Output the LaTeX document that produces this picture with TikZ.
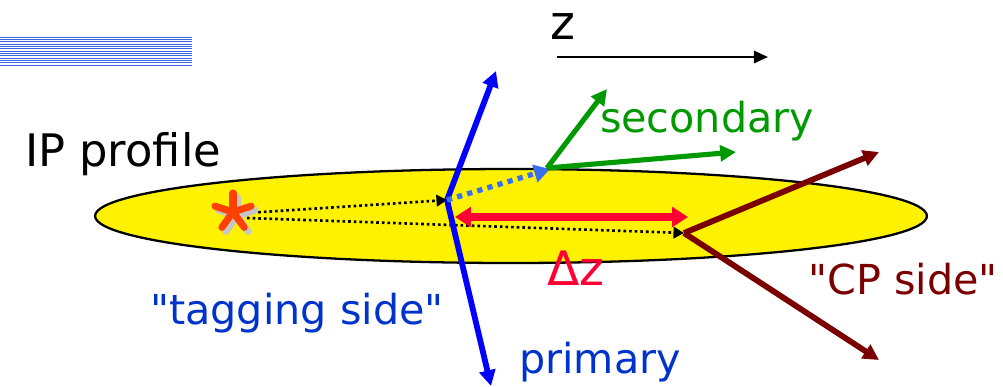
\documentclass[tikz,border=0pt]{standalone}
\usepackage{fontspec}
\setmainfont{DejaVu Sans}
\usetikzlibrary{arrows.meta,shapes.geometric,calc}
\definecolor{bluel}{HTML}{0000FF}
\definecolor{lightbl}{HTML}{3A6FF0}
\definecolor{greenl}{HTML}{009900}
\definecolor{redl}{HTML}{FF0033}
\definecolor{darkred}{HTML}{7A0000}
\definecolor{bluetxt}{HTML}{0033CC}
\definecolor{stripe}{HTML}{3A66E0}
\definecolor{starc}{HTML}{FF4000}
\tikzset{
  lbl/.style={inner sep=0pt, font=\fontsize{23.5}{24}\selectfont},
  thickarr/.style={line width=3.3pt, -{Triangle[length=9pt,width=9pt]}},
  dotarr/.style={line width=1.5pt, dash pattern=on 1.5pt off 1.7pt, -{Triangle[length=6pt,width=6.5pt]}},
}
\begin{document}
\begin{tikzpicture}[x=0.02cm,y=-0.02cm]
\useasboundingbox (0,0) rectangle (1003,386);
% stripes
\foreach \i in {0,...,12} {
  \draw[stripe, line width=0.6pt] (0,{37.3+2.33*\i}) -- (192,{37.3+2.33*\i});
}
% z axis
\node[lbl, font=\fontsize{27}{27}\selectfont] (zl) at (563,27) {z};
\coordinate (za) at (557,57);
\coordinate (zb) at (768,57);
\draw[line width=1.3pt, -{Triangle[length=8pt,width=7pt]}] (za) -- (zb);
% ellipse
\node[draw=black, line width=1.3pt, fill=yellow, ellipse, minimum width=16.64cm, minimum height=1.88cm, inner sep=0pt] (ell) at (511,216) {};
% label IP profile
\node[lbl, font=\fontsize{25.5}{26}\selectfont] (ip) at (123,154) {IP profile};
% coordinates
\coordinate (star) at (233,212);
\coordinate (V) at (447,200);
\coordinate (S) at (550,169);
\coordinate (C) at (684,233);
% dotted lines
\coordinate (s1) at (247,213);
\coordinate (s2) at (247,218);
\draw[dotarr] (s1) -- (V);
\draw[dotarr] (s2) -- (C);
% star with shadow
\foreach \a in {90,162,234,306,18} {
  \draw[gray!45, line width=4pt, line cap=round] ($(star)+(4,4)$) -- ++({19*cos(\a)},{-19*sin(\a)});
}
\foreach \a in {90,162,234,306,18} {
  \draw[starc, line width=4pt, line cap=round] (star) -- ++({19*cos(\a)},{-19*sin(\a)});
}
% primary (blue)
\coordinate (ptop) at (496,71);
\coordinate (pbot) at (491,386);
\draw[bluel, thickarr] (V) -- (ptop);
\draw[bluel, thickarr] (V) -- (pbot);
% dashed blue to secondary vertex
\draw[lightbl, line width=3pt, dash pattern=on 3pt off 3pt, -{Triangle[length=9pt,width=10pt]}] (V) -- (S);
% secondary (green)
\coordinate (g1) at (607,89);
\coordinate (g2) at (736,152);
\draw[greenl, thickarr, line width=2.9pt] ($(S)+(-3,-1)$) -- (g1);
\draw[greenl, thickarr, line width=2.9pt] ($(S)+(-3,-1)$) -- (g2);
% delta z
\coordinate (dzl) at (455,217);
\coordinate (dzr) at (688,217);
\draw[redl, line width=4pt, {Triangle[length=9pt,width=11pt]}-{Triangle[length=9pt,width=11pt]}] (dzl) -- (dzr);
% CP side (dark red)
\coordinate (c1) at (879,152);
\coordinate (c2) at (879,360);
\draw[darkred, thickarr] (C) -- (c1);
\draw[darkred, thickarr] (C) -- (c2);
% labels
\node[lbl, text=greenl] (sec) at (707,121) {secondary};
\node[lbl, text=redl, font=\fontsize{27}{27}\selectfont] (dz) at (576,268) {Δz};
\node[lbl, text=darkred] (cp) at (903,279) {\textquotedbl CP side\textquotedbl};
\node[lbl, text=bluetxt] (tag) at (297,313) {\textquotedbl tagging side\textquotedbl};
\node[lbl, text=bluetxt] (prim) at (600,362) {primary};
\end{tikzpicture}
\end{document}
